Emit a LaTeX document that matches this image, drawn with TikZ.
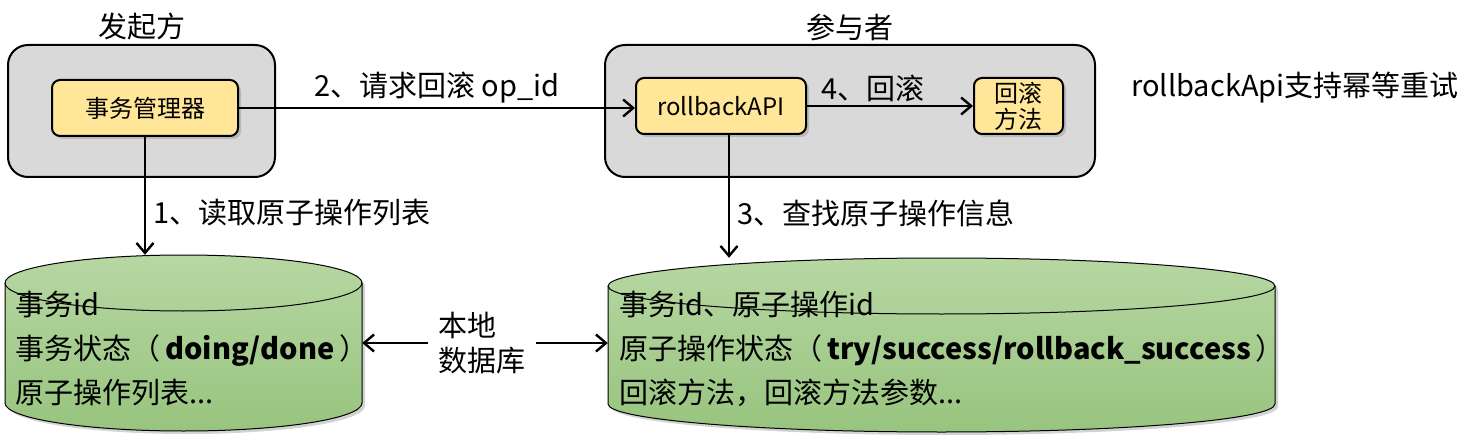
\documentclass[tikz,border=0pt]{standalone}
\usepackage{fontspec}
\setmainfont{Noto Sans CJK SC}
\usetikzlibrary{fit,positioning,shadows,arrows.meta}
\definecolor{grpgray}{HTML}{D9D9D9}
\definecolor{compyellow}{HTML}{FFE699}
\definecolor{dbtop}{HTML}{B7D7A3}
\definecolor{dbbot}{HTML}{97C47E}

\begin{document}
\begin{tikzpicture}[x=1pt,y=-1pt]
\tikzstyle{group}=[rectangle, rounded corners=20pt, draw=black, line width=2pt, fill=grpgray]
\tikzstyle{comp}=[rectangle, rounded corners=8pt, draw=black, line width=2pt, fill=compyellow, font=\fontsize{24}{26}\selectfont, drop shadow={opacity=0.35, shadow xshift=3pt, shadow yshift=-3pt}]
\tikzstyle{connect}=[-{Straight Barb[length=10pt,width=17pt,line width=2.4pt]}, line width=2.4pt]
\tikzstyle{lbl}=[font=\fontsize{29}{35}\selectfont]
\tikzstyle{db}=[draw=black, line width=1pt, top color=dbtop, bottom color=dbbot, drop shadow={opacity=0.35, shadow xshift=3pt, shadow yshift=-3pt}]
\useasboundingbox (0,0) rectangle (1479,446);
  % initiator side
  \node[group, minimum width=267pt, minimum height=132pt] (init) at (141.5,111) {};
  \node[lbl, above=0pt of init] (initT) {发起方};
  \node[comp, minimum width=186pt, minimum height=56pt] (mgr) at (145,108) {事务管理器};
  % participant side
  \node[group, minimum width=490pt, minimum height=132pt] (part) at (850,111) {};
  \node[lbl, above=0pt of part] (partT) {参与者};
  \node[comp, minimum width=170pt, minimum height=56pt] (api) at (721,106) {rollbackAPI};
  \node[comp, minimum width=89pt, minimum height=56pt, inner sep=0pt, align=center] (method) at (1018.5,106) {回滚\\方法};
  \node[lbl] (note) at (1295,88) {rollbackApi支持幂等重试};
  % local databases
  \coordinate (dbLtl) at (5,255);
  \coordinate (dbLbr) at (362,431);
  \node[rectangle, inner sep=0pt, fit=(dbLtl) (dbLbr)] (dbL) {};
  \path[db] (5,283) -- (5,403) arc[start angle=180, end angle=360, x radius=178.5pt, y radius=28pt]
    -- (362,283) arc[start angle=0, end angle=180, x radius=178.5pt, y radius=28pt] -- cycle;
  \draw[line width=1pt] (5,283) arc[start angle=180, end angle=360, x radius=178.5pt, y radius=28pt];
  \coordinate (dbRtl) at (608,258);
  \coordinate (dbRbr) at (1275,432);
  \node[rectangle, inner sep=0pt, fit=(dbRtl) (dbRbr)] (dbR) {};
  \path[db] (608,286) -- (608,404) arc[start angle=180, end angle=360, x radius=333.5pt, y radius=28pt]
    -- (1275,286) arc[start angle=0, end angle=180, x radius=333.5pt, y radius=28pt] -- cycle;
  \draw[line width=1pt] (608,286) arc[start angle=180, end angle=360, x radius=333.5pt, y radius=28pt];
  \node[lbl, anchor=west, align=left, font=\fontsize{29}{44}\selectfont] (dbLtext) at (12,349)
    {事务id\\事务状态（\,\textbf{doing/done}\,）\\原子操作列表...};
  \node[lbl, anchor=west, align=left, font=\fontsize{29}{44}\selectfont] (dbRtext) at (616,349)
    {事务id、原子操作id\\原子操作状态（\,\textbf{try/success/rollback\_success}\,）\\回滚方法，回滚方法参数...};
  \node[lbl, align=left, inner sep=10pt] (local) at (482,343) {本地\\数据库};
  % connections
  \draw[connect] (mgr.east) -- (mgr.east -| api.west)
    node[lbl, above, midway] (req) {2、请求回滚 op\_id};
  \draw[connect] (api.east) -- (method.west)
    node[lbl, above, pos=0.4] (rb) {4、回滚};
  \draw[connect] (mgr.south) -- (mgr.south |- dbL.north)
    node[lbl, right=4pt, pos=0.64] (read) {1、读取原子操作列表};
  \draw[connect] ([xshift=8pt]api.south) -- ([xshift=8pt]api.south |- dbR.north)
    node[lbl, right=4pt, pos=0.64] (find) {3、查找原子操作信息};
  \draw[connect] (local.west) -- (local.west -| dbL.east);
  \draw[connect] (local.east) -- (local.east -| dbR.west);
\end{tikzpicture}
\end{document}
